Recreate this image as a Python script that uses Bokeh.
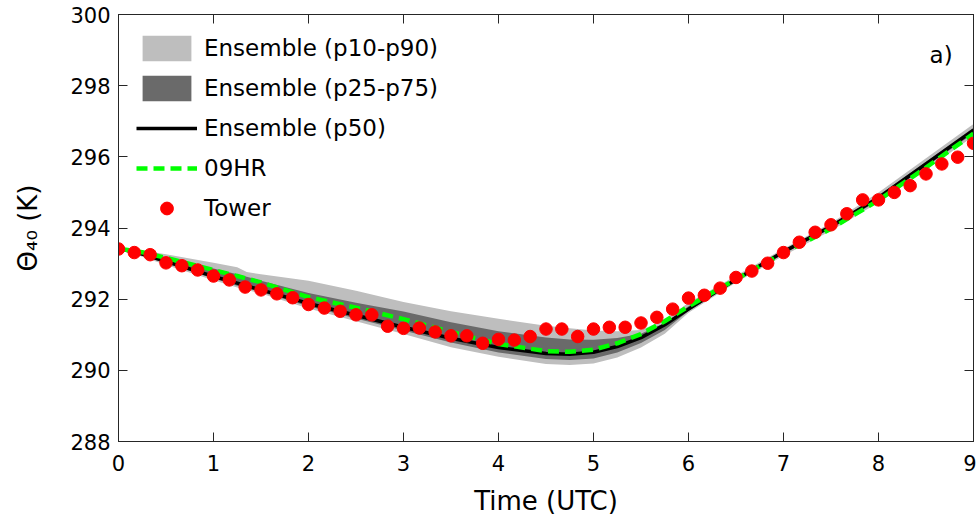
import math
from bokeh.plotting import figure
from bokeh.models import (LinearAxis, Range1d, CustomJSTickFormatter, FixedTicker,
                          Label, Legend, LegendItem)
from bokeh.embed import file_html
from bokeh.resources import INLINE

FONT = "DejaVu Sans"

# ---------------- data ----------------
model_time = [0, 0.25, 0.5, 1.0, 1.25, 1.35, 1.5, 2.0, 2.5, 3.0, 3.5, 4.0, 4.5,
              4.75, 5.0, 5.25, 5.5, 5.75, 6.0, 6.5, 7.0, 7.5, 8.0, 8.5, 9.0]
ens_p10 = [293.42, 293.19, 292.96, 292.53, 292.33, 292.26, 292.16, 291.74, 291.38, 291.02,
           290.65, 290.38, 290.18, 290.15, 290.19, 290.36, 290.64, 291.03, 291.62, 292.47,
           293.22, 293.92, 294.72, 295.64, 296.58]
ens_p25 = [293.42, 293.22, 293.00, 292.58, 292.38, 292.31, 292.20, 291.80, 291.46, 291.12,
           290.78, 290.50, 290.32, 290.29, 290.33, 290.50, 290.77, 291.13, 291.67, 292.51,
           293.28, 293.98, 294.78, 295.72, 296.66]
ens_p50 = [293.42, 293.27, 293.06, 292.64, 292.45, 292.37, 292.26, 291.88, 291.55, 291.21,
           290.90, 290.64, 290.47, 290.45, 290.51, 290.67, 290.92, 291.28, 291.72, 292.55,
           293.33, 294.05, 294.85, 295.80, 296.75]
ens_p75 = [293.42, 293.33, 293.18, 292.86, 292.70, 292.63, 292.52, 292.17, 291.90, 291.65,
           291.35, 291.10, 290.92, 290.87, 290.86, 290.91, 291.03, 291.33, 291.80, 292.60,
           293.38, 294.08, 294.91, 295.86, 296.82]
ens_p90 = [293.42, 293.37, 293.26, 293.02, 292.90, 292.76, 292.70, 292.52, 292.24, 291.92,
           291.66, 291.45, 291.25, 291.18, 291.12, 291.10, 291.13, 291.42, 291.90, 292.66,
           293.42, 294.14, 295.00, 295.96, 296.92]
hr09 = [293.42, 293.32, 293.16, 292.82, 292.65, 292.58, 292.47, 292.06, 291.76, 291.44,
        291.08, 290.74, 290.54, 290.52, 290.58, 290.76, 291.02, 291.38, 291.80, 292.56,
        293.30, 293.98, 294.78, 295.70, 296.65]

tower_minutes = [0, 10, 20, 30, 40, 50, 60, 70, 80, 90, 100, 110, 120, 130, 140, 150,
                 160, 170, 180, 190, 200, 210, 220, 230, 240, 250, 260, 270, 280, 290,
                 300, 310, 320, 330, 340, 350, 360, 370, 380, 390, 400, 410, 420, 430,
                 440, 450, 460, 470, 480, 490, 500, 510, 520, 530, 540]
tower_theta = [293.41, 293.31, 293.25, 293.02, 292.94, 292.82, 292.65, 292.54, 292.34,
               292.26, 292.15, 292.04, 291.85, 291.75, 291.66, 291.56, 291.56, 291.24,
               291.18, 291.19, 291.08, 290.97, 290.97, 290.76, 290.87, 290.85, 290.95,
               291.16, 291.16, 290.95, 291.16, 291.21, 291.21, 291.33, 291.49, 291.72,
               292.03, 292.11, 292.31, 292.61, 292.79, 293.01, 293.31, 293.60, 293.88,
               294.09, 294.40, 294.79, 294.79, 295.00, 295.19, 295.52, 295.80, 295.99,
               296.38]
tower_time = [m / 60.0 for m in tower_minutes]

x_ticks = [0, 1, 2, 3, 4, 5, 6, 7, 8, 9]
y_ticks = [288, 290, 292, 294, 296, 298, 300]

# ---------------- figure ----------------
AX = "#262626"
p = figure(width=976, height=520, x_range=Range1d(0, 9), y_range=Range1d(288, 300),
           output_backend="svg", toolbar_location=None,
           min_border_left=118, min_border_right=3, min_border_top=14, min_border_bottom=79,
           x_axis_label="Time (UTC)", y_axis_label="Θ₄₀ (K)")
p.xgrid.visible = False
p.ygrid.visible = False
p.outline_line_color = AX
p.background_fill_color = "white"
p.border_fill_color = "white"

def style_axis(ax, labels=True):
    ax.axis_line_color = AX
    ax.major_tick_line_color = AX
    ax.major_tick_in = 9
    ax.major_tick_out = 0
    ax.minor_tick_line_color = None
    ax.major_label_text_font = FONT
    ax.major_label_text_font_size = "21px"
    ax.major_label_text_color = "black"
    ax.axis_label_text_font = FONT
    ax.axis_label_text_font_size = "26px"
    ax.axis_label_text_font_style = "normal"
    ax.axis_label_text_color = "black"
    if not labels:
        ax.formatter = CustomJSTickFormatter(code="return ''")
        ax.major_label_standoff = 0

xa = p.xaxis[0]
xa.ticker = FixedTicker(ticks=x_ticks)
style_axis(xa)
xa.major_label_standoff = 13
xa.axis_label_standoff = 12

ya = p.yaxis[0]
ya.ticker = FixedTicker(ticks=y_ticks)
style_axis(ya)
ya.major_label_standoff = 8
ya.axis_label_standoff = 24

top = LinearAxis(ticker=FixedTicker(ticks=x_ticks))
style_axis(top, labels=False)
p.add_layout(top, "above")
right = LinearAxis(ticker=FixedTicker(ticks=y_ticks))
style_axis(right, labels=False)
p.add_layout(right, "right")

# ---------------- glyphs ----------------
r90 = p.varea(x=model_time, y1=ens_p10, y2=ens_p90, fill_color="#bebebe")
r75 = p.varea(x=model_time, y1=ens_p25, y2=ens_p75, fill_color="#6a6a6a")
r50 = p.line(model_time, ens_p50, line_color="black", line_width=3.5)
rhr = p.line(model_time, hr09, line_color="#00ff00", line_width=4.5, line_dash="11 6")
rtw = p.scatter(tower_time, tower_theta, marker="circle", size=12.5,
                fill_color="#ff0000", line_color="#ff0000")

legend = Legend(items=[
    LegendItem(label="Ensemble (p10-p90)", renderers=[r90]),
    LegendItem(label="Ensemble (p25-p75)", renderers=[r75]),
    LegendItem(label="Ensemble (p50)", renderers=[r50]),
    LegendItem(label="09HR", renderers=[rhr]),
    LegendItem(label="Tower", renderers=[rtw]),
], location="top_left", glyph_width=61, glyph_height=32, label_height=32, spacing=8,
    padding=0, margin=18, label_standoff=7, label_text_font=FONT,
    label_text_font_size="23px", label_text_color="black",
    background_fill_alpha=0, border_line_color=None)
p.add_layout(legend)

p.add_layout(Label(x=8.78, y=298.85, text="a)", text_font=FONT, text_font_size="23px",
                   text_align="right", text_baseline="alphabetic", text_color="black"))

open("out.html", "w").write(file_html(p, INLINE))
